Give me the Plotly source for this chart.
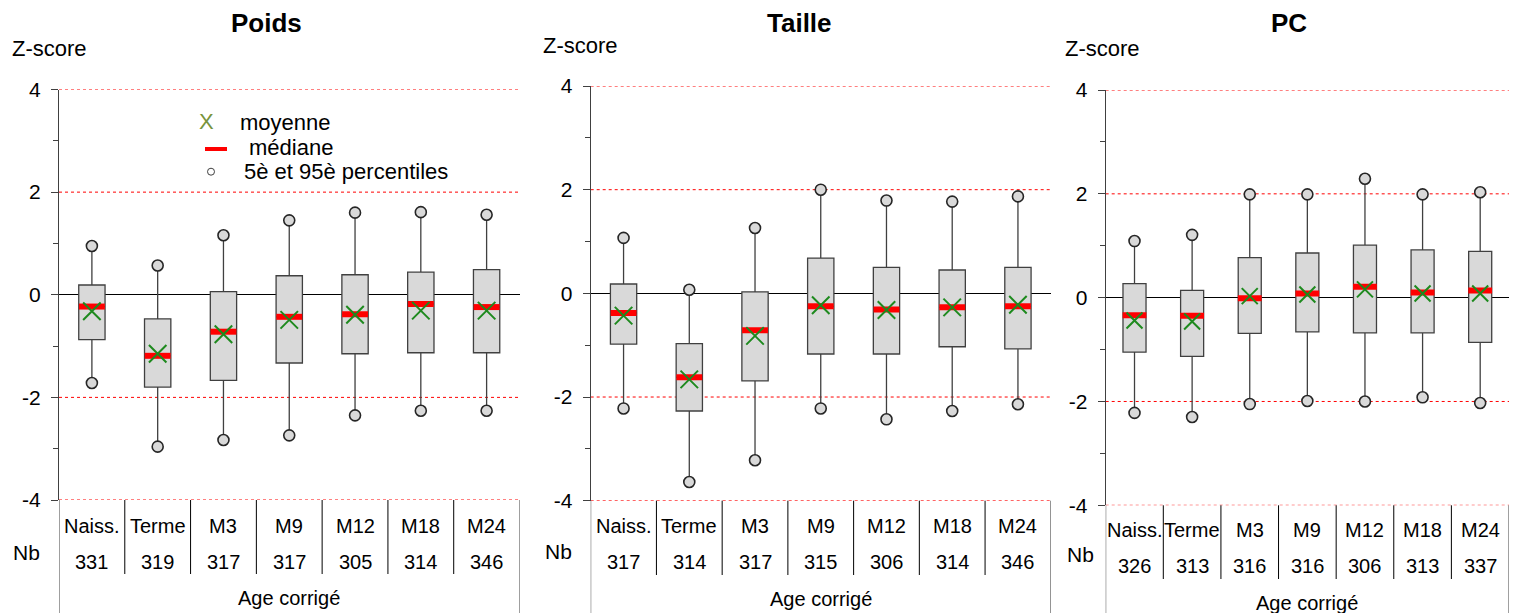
import plotly.graph_objects as go

W, H = 1517, 613
OFF = 8  # page margin of the browser body
FONT = "Liberation Sans, Arial, sans-serif"

categories = ["Naiss.", "Terme", "M3", "M9", "M12", "M18", "M24"]
titles = ["Poids", "Taille", "PC"]

# Poids
poids_p95 = [0.95, 0.57, 1.16, 1.45, 1.60, 1.61, 1.56]
poids_q3 = [0.19, -0.47, 0.06, 0.37, 0.39, 0.44, 0.49]
poids_med = [-0.23, -1.19, -0.72, -0.43, -0.38, -0.18, -0.24]
poids_mean = [-0.32, -1.15, -0.77, -0.49, -0.39, -0.31, -0.31]
poids_q1 = [-0.875, -1.80, -1.67, -1.33, -1.15, -1.13, -1.13]
poids_p5 = [-1.72, -2.96, -2.83, -2.74, -2.35, -2.26, -2.26]
poids_n = [331, 319, 317, 317, 305, 314, 346]

# Taille
taille_p95 = [1.07, 0.07, 1.26, 2.00, 1.79, 1.77, 1.87]
taille_q3 = [0.18, -0.97, 0.03, 0.68, 0.50, 0.45, 0.50]
taille_med = [-0.38, -1.62, -0.71, -0.25, -0.31, -0.27, -0.25]
taille_mean = [-0.43, -1.66, -0.82, -0.23, -0.32, -0.27, -0.22]
taille_q1 = [-0.98, -2.27, -1.69, -1.17, -1.17, -1.03, -1.07]
taille_p5 = [-2.22, -3.64, -3.22, -2.22, -2.43, -2.27, -2.14]
taille_n = [317, 314, 317, 315, 306, 314, 346]

# PC
pc_p95 = [1.09, 1.21, 1.99, 1.99, 2.29, 1.99, 2.03]
pc_q3 = [0.27, 0.14, 0.77, 0.86, 1.01, 0.92, 0.89]
pc_med = [-0.34, -0.35, -0.01, 0.08, 0.21, 0.10, 0.14]
pc_mean = [-0.44, -0.46, 0.03, 0.06, 0.16, 0.08, 0.08]
pc_q1 = [-1.05, -1.13, -0.69, -0.66, -0.68, -0.68, -0.86]
pc_p5 = [-2.22, -2.30, -2.05, -1.99, -2.00, -1.92, -2.03]
pc_n = [326, 313, 316, 316, 306, 313, 337]

y_ticks = [-4, -2, 0, 2, 4]
y_ticktext = ["-4", "-2", "0", "2", "4"]
y_minor = [-3, -1, 1, 3]
ref_lines = [-4, -2, 2, 4]

panels = [
    dict(p95=poids_p95, q3=poids_q3, med=poids_med, mean=poids_mean, q1=poids_q1, p5=poids_p5, n=poids_n),
    dict(p95=taille_p95, q3=taille_q3, med=taille_med, mean=taille_mean, q1=taille_q1, p5=taille_p5, n=taille_n),
    dict(p95=pc_p95, q3=pc_q3, med=pc_med, mean=pc_mean, q1=pc_q1, p5=pc_p5, n=pc_n),
]

# layout geometry in screen pixels (left, right, top, bottom of plot area)
geo = [
    dict(l=59, r=519.5, t=89.5, b=500.0, mark=18.5, div_end=574, cat_y=525.7, n_y=561.7, age_y=598, nb_x=26, nb_y=552,
         zs_x=10, zs_y=48, title_x=266, title_y=23),
    dict(l=590.7, r=1050.8, t=86.0, b=500.7, mark=18.5, div_end=575, cat_y=526, n_y=561.7, age_y=599, nb_x=558, nb_y=551,
         zs_x=540.7, zs_y=45.7, title_x=799, title_y=23),
    dict(l=1105.7, r=1509, t=90.0, b=505.3, mark=17, div_end=579, cat_y=530, n_y=566, age_y=603, nb_x=1080, nb_y=554,
         zs_x=1063.3, zs_y=48.3, title_x=1289, title_y=23),
]

def px(x):
    return (x - OFF) / W

def py(y):
    return 1 - (y - OFF) / H

fig = go.Figure()
xs = list(range(len(categories)))
annotations = []
shapes = []

for i, (d, g) in enumerate(zip(panels, geo)):
    sfx = "" if i == 0 else str(i + 1)
    xa, ya = "x" + sfx, "y" + sfx
    fig.add_trace(go.Box(
        x=xs, q1=d["q1"], median=d["med"], q3=d["q3"],
        lowerfence=d["p5"], upperfence=d["p95"],
        width=0.4, whiskerwidth=0, boxpoints=False,
        fillcolor="#D9D9D9", line=dict(color="#404040", width=1.3),
        xaxis=xa, yaxis=ya, showlegend=False, hoverinfo="skip",
    ))
    fig.add_trace(go.Scatter(
        x=xs, y=d["med"], mode="markers",
        marker=dict(symbol="line-ew", size=g["mark"], line=dict(color="#FF0000", width=6)),
        xaxis=xa, yaxis=ya, showlegend=False, hoverinfo="skip",
    ))
    fig.add_trace(go.Scatter(
        x=xs, y=d["mean"], mode="markers",
        marker=dict(symbol="x-thin", size=g["mark"] - 1, line=dict(color="#1E8A1E", width=2)),
        xaxis=xa, yaxis=ya, showlegend=False, hoverinfo="skip",
    ))
    fig.add_trace(go.Scatter(
        x=xs + xs, y=d["p5"] + d["p95"], mode="markers",
        marker=dict(symbol="circle", size=11, color="#D9D9D9", line=dict(color="#262626", width=1.6)),
        xaxis=xa, yaxis=ya, showlegend=False, hoverinfo="skip",
    ))

    fig.update_layout(**{
        "xaxis" + sfx: dict(domain=[px(g["l"]), px(g["r"])], range=[-0.5, 6.5], showgrid=False,
                            zeroline=False, showline=False, showticklabels=False, ticks="",
                            anchor=ya, fixedrange=True, automargin=False),
        "yaxis" + sfx: dict(domain=[py(g["b"]), py(g["t"])], range=[-4, 4], anchor=xa,
                            tickvals=y_ticks, ticktext=y_ticktext, ticks="outside", ticklen=7,
                            tickcolor="#404040",
                            showline=True, linecolor="#404040", linewidth=1,
                            showgrid=False, zeroline=True, zerolinecolor="#000000", zerolinewidth=1,
                            tickfont=dict(family=FONT, size=21, color="#000000"),
                            ticklabelstandoff=6, automargin=False,
                            minor=dict(tickvals=y_minor, ticks="outside", ticklen=5,
                                       tickcolor="#404040", showgrid=False),
                            fixedrange=True),
    })

    # red dotted reference lines
    for v in ref_lines:
        shapes.append(dict(type="line", xref=xa + " domain", yref=ya, x0=0, x1=1, y0=v, y1=v,
                           line=dict(color="#FF0000", width=1, dash="dot"), layer="below"))

    # table below the plot
    for k in range(len(categories) - 1):
        shapes.append(dict(type="line", xref=xa, yref="paper", x0=k + 0.5, x1=k + 0.5,
                           y0=py(g["div_end"]), y1=py(g["b"]), line=dict(color="#000000", width=1)))
    shapes.append(dict(type="line", xref=xa, yref="paper", x0=-0.5, x1=-0.5,
                       y0=0, y1=py(g["b"]), line=dict(color="#404040", width=1)))
    shapes.append(dict(type="line", xref=xa, yref="paper", x0=6.5, x1=6.5,
                       y0=0, y1=py(g["b"]), line=dict(color="#404040", width=1)))

    for k, (c, n) in enumerate(zip(categories, d["n"])):
        annotations.append(dict(text=c, xref=xa, yref="paper", x=k, y=py(g["cat_y"]),
                                showarrow=False, xanchor="center", yanchor="middle",
                                font=dict(family=FONT, size=20, color="#000000")))
        annotations.append(dict(text=str(n), xref=xa, yref="paper", x=k, y=py(g["n_y"]),
                                showarrow=False, xanchor="center", yanchor="middle",
                                font=dict(family=FONT, size=20, color="#000000")))
    annotations.append(dict(text="Age corrigé", xref=xa, yref="paper", x=3, y=py(g["age_y"]),
                            showarrow=False, xanchor="center", yanchor="middle",
                            font=dict(family=FONT, size=20, color="#000000")))
    annotations.append(dict(text="Nb", xref="paper", yref="paper", x=px(g["nb_x"]), y=py(g["nb_y"]),
                            showarrow=False, xanchor="center", yanchor="middle",
                            font=dict(family=FONT, size=21, color="#000000")))
    annotations.append(dict(text="Z-score", xref="paper", yref="paper", x=px(g["zs_x"]), y=py(g["zs_y"]),
                            showarrow=False, xanchor="left", yanchor="middle",
                            font=dict(family=FONT, size=22, color="#000000")))
    annotations.append(dict(text="<b>%s</b>" % titles[i], xref="paper", yref="paper",
                            x=px(g["title_x"]), y=py(g["title_y"]),
                            showarrow=False, xanchor="center", yanchor="middle",
                            font=dict(family=FONT, size=26, color="#000000")))

# legend (first panel)
annotations.append(dict(text="X", xref="paper", yref="paper", x=px(206), y=py(122),
                        showarrow=False, xanchor="center", yanchor="middle",
                        font=dict(family=FONT, size=22, color="#77933C")))
annotations.append(dict(text="moyenne", xref="paper", yref="paper", x=px(238), y=py(122.5),
                        showarrow=False, xanchor="left", yanchor="middle",
                        font=dict(family=FONT, size=22, color="#000000")))
annotations.append(dict(text="médiane", xref="paper", yref="paper", x=px(246.5), y=py(147.5),
                        showarrow=False, xanchor="left", yanchor="middle",
                        font=dict(family=FONT, size=22, color="#000000")))
annotations.append(dict(text="5è et 95è percentiles", xref="paper", yref="paper", x=px(241.5), y=py(171),
                        showarrow=False, xanchor="left", yanchor="middle",
                        font=dict(family=FONT, size=22, color="#000000")))
shapes.append(dict(type="line", xref="paper", yref="paper", x0=px(205), x1=px(227), y0=py(149), y1=py(149),
                   line=dict(color="#FF0000", width=4)))
shapes.append(dict(type="circle", xref="paper", yref="paper", x0=px(207.5), x1=px(214.5),
                   y0=py(175.2), y1=py(168.2), line=dict(color="#404040", width=1), fillcolor="#FFFFFF"))

fig.update_layout(
    width=W, height=H, margin=dict(l=0, r=0, t=0, b=0, pad=0, autoexpand=False),
    paper_bgcolor="#FFFFFF", plot_bgcolor="#FFFFFF",
    annotations=annotations, shapes=shapes, showlegend=False,
    font=dict(family=FONT, color="#000000"),
)

fig.write_html("out.html")
